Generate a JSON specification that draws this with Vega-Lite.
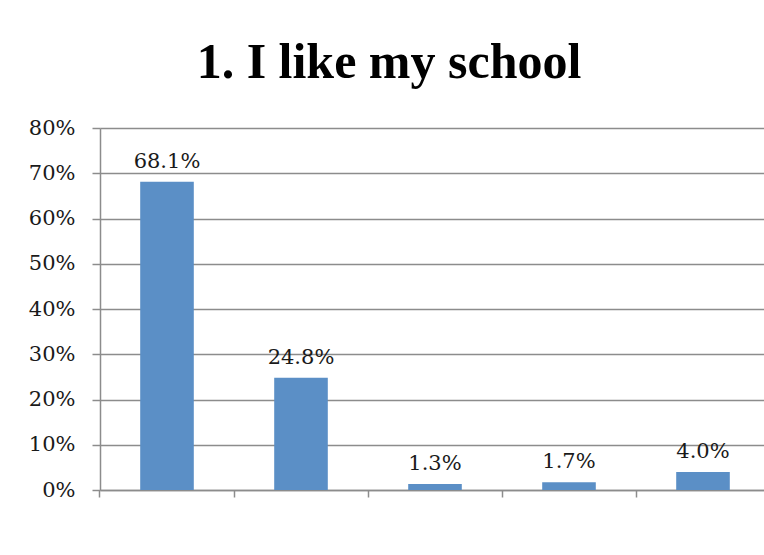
{
  "$schema": "https://vega.github.io/schema/vega-lite/v6.json",
  "autosize": {"type": "none"},
  "padding": {"left": 100, "top": 128, "right": 0, "bottom": 65},
  "width": 670,
  "height": 362,
  "background": "white",
  "config": {"view": {"stroke": null}},
  "title": {
    "text": "1. I like my school",
    "font": "Liberation Serif",
    "fontWeight": "bold",
    "fontSize": 50,
    "color": "#000000",
    "anchor": "middle",
    "dx": -46,
    "dy": 47,
    "baseline": "alphabetic",
    "offset": 36
  },
  "data": {
    "values": [
      {"response": "Strongly agree", "pct": 0.681},
      {"response": "Agree", "pct": 0.248},
      {"response": "Disagree", "pct": 0.013},
      {"response": "Strongly disagree", "pct": 0.017},
      {"response": "No answer", "pct": 0.04}
    ]
  },
  "encoding": {
    "x": {
      "field": "response",
      "type": "nominal",
      "sort": null,
      "scale": {"paddingInner": 0.6, "paddingOuter": 0.3},
      "axis": {
        "labels": false,
        "title": null,
        "grid": false,
        "bandPosition": -0.75,
        "domainColor": "#8c8c8c",
        "domainWidth": 1.5,
        "tickColor": "#8c8c8c",
        "tickWidth": 1.5,
        "tickSize": 7
      }
    },
    "y": {
      "field": "pct",
      "type": "quantitative",
      "scale": {"domain": [0, 0.8]},
      "axis": {
        "title": null,
        "format": ".0%",
        "values": [0, 0.1, 0.2, 0.3, 0.4, 0.5, 0.6, 0.7, 0.8],
        "labelFont": "DejaVu Serif",
        "labelFontSize": 21,
        "labelColor": "#1a1a1a",
        "labelPadding": 17,
        "tickSize": 8,
        "tickColor": "#8c8c8c",
        "tickWidth": 1.5,
        "domainColor": "#8c8c8c",
        "domainWidth": 1.5,
        "gridColor": "#8c8c8c",
        "gridWidth": 1.5
      }
    }
  },
  "layer": [
    {"mark": {"type": "bar", "color": "#5B8FC6"}},
    {
      "mark": {
        "type": "text",
        "dy": -14,
        "baseline": "alphabetic",
        "font": "DejaVu Serif",
        "fontSize": 21,
        "color": "#1a1a1a"
      },
      "encoding": {"text": {"field": "pct", "type": "quantitative", "format": ".1%"}}
    }
  ]
}
